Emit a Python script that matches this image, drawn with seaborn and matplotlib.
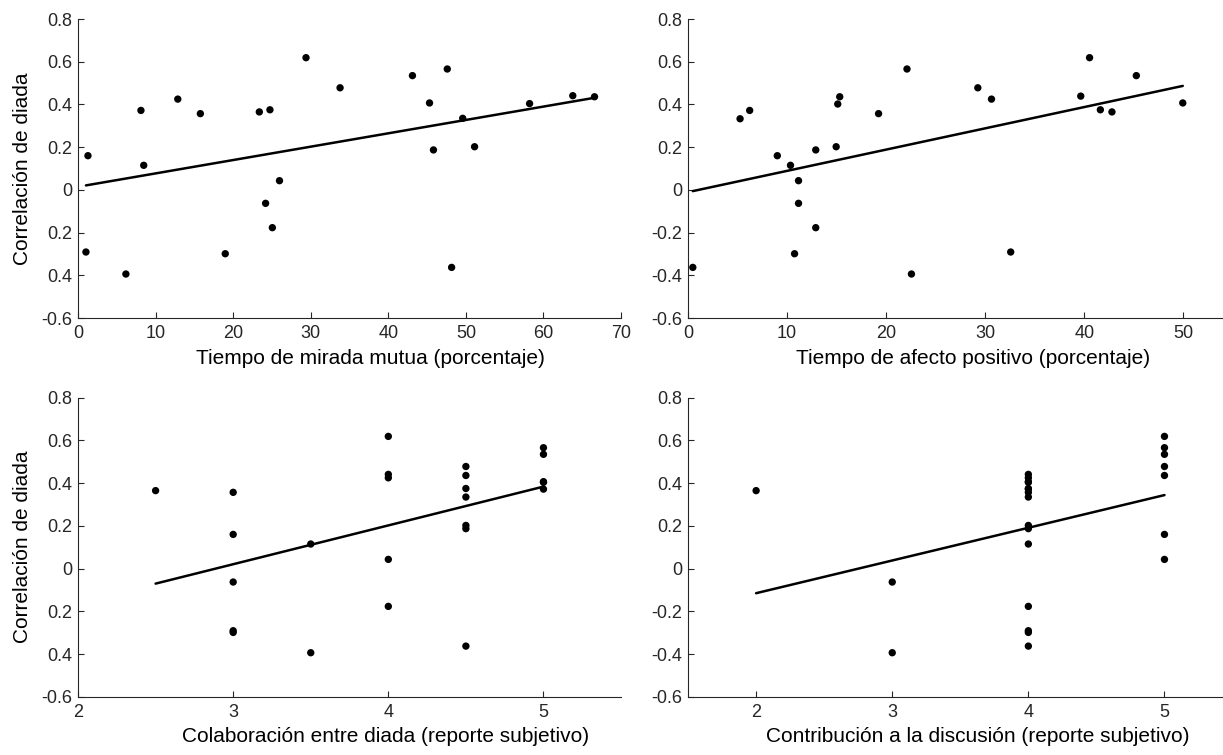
import matplotlib
matplotlib.use("Agg")
import matplotlib.pyplot as plt
import seaborn as sns
import pandas as pd

# dyad correlation values (y) and the four predictors (x)
mirada_x = [1.28, 1.02, 6.17, 8.11, 8.47, 12.86, 15.77, 18.98, 23.37, 24.74, 24.18, 25.05, 25.97,
            29.39, 33.78, 43.11, 45.31, 45.82, 47.60, 48.16, 49.59, 51.12, 58.21, 63.78, 66.58]
mirada_y = [0.160, -0.291, -0.394, 0.372, 0.115, 0.425, 0.357, -0.299, 0.365, 0.375, -0.063, -0.177, 0.043,
            0.619, 0.478, 0.535, 0.407, 0.187, 0.566, -0.363, 0.335, 0.202, 0.404, 0.441, 0.436]

afecto_x = [0.48, 5.25, 6.22, 9.01, 10.34, 11.15, 11.15, 10.75, 12.89, 12.89, 14.95, 15.11, 15.31,
            19.23, 22.10, 22.55, 29.25, 30.63, 32.57, 39.64, 40.53, 41.62, 42.79, 45.25, 49.94]
afecto_y = [-0.363, 0.333, 0.372, 0.160, 0.115, 0.043, -0.063, -0.299, 0.187, -0.177, 0.202, 0.402, 0.436,
            0.357, 0.566, -0.394, 0.478, 0.425, -0.291, 0.439, 0.619, 0.375, 0.365, 0.535, 0.407]

colab_x = [2.5, 3, 3, 3, 3, 3, 3.5, 3.5, 4, 4, 4, 4, 4,
           4.5, 4.5, 4.5, 4.5, 4.5, 4.5, 4.5, 5, 5, 5, 5, 5]
colab_y = [0.365, 0.357, 0.160, -0.063, -0.291, -0.299, 0.115, -0.394, 0.619, 0.441, 0.425, 0.043, -0.177,
           0.478, 0.436, 0.375, 0.335, 0.202, 0.187, -0.363, 0.566, 0.535, 0.407, 0.404, 0.372]

contrib_x = [2, 3, 3, 4, 4, 4, 4, 4, 4, 4, 4, 4, 4, 4, 4, 4, 4, 4, 5, 5, 5, 5, 5, 5, 5]
contrib_y = [0.365, -0.063, -0.394, 0.441, 0.425, 0.407, 0.404, 0.375, 0.372, 0.357, 0.335, 0.202, 0.187,
             0.115, -0.177, -0.291, -0.299, -0.363, 0.619, 0.566, 0.535, 0.478, 0.436, 0.160, 0.043]

yticks = [-0.6, -0.4, -0.2, 0, 0.2, 0.4, 0.6, 0.8]
ylabels_left = ['-0.6', '0.4', '0.2', '0', '0.2', '0.4', '0.6', '0.8']
ylabels_right = ['-0.6', '-0.4', '-0.2', '0', '0.2', '0.4', '0.6', '0.8']

sns.set_style("ticks")
plt.rcParams['font.family'] = ['Liberation Sans', 'DejaVu Sans']
plt.rcParams['xtick.direction'] = 'in'
plt.rcParams['ytick.direction'] = 'in'

dark = '#262626'

fig = plt.figure(figsize=(12.23, 7.55), dpi=100)

panels = [
    # x, y, xlabel, rect, xlim, xticks, ylabels, label x pos, ylabel
    (mirada_x, mirada_y, 'Tiempo de mirada mutua (porcentaje)',
     [0.0638, 0.5788, 0.444, 0.396], (0, 70), range(0, 71, 10), ylabels_left, 0.538, True),
    (afecto_x, afecto_y, 'Tiempo de afecto positivo (porcentaje)',
     [0.5626, 0.5788, 0.4374, 0.396], (0, 54), range(0, 51, 10), ylabels_right, 0.533, False),
    (colab_x, colab_y, 'Colaboración entre diada (reporte subjetivo)',
     [0.0638, 0.0772, 0.444, 0.396], (2, 5.5), [2, 3, 4, 5], ylabels_left, 0.567, True),
    (contrib_x, contrib_y, 'Contribución a la discusión (reporte subjetivo)',
     [0.5626, 0.0772, 0.4374, 0.396], (1.5, 5.43), [2, 3, 4, 5], ylabels_right, 0.542, False),
]

for x, y, xlab, rect, xlim, xt, ylabs, lx, has_ylabel in panels:
    ax = fig.add_axes(rect)
    df = pd.DataFrame({'x': x, 'y': y})
    sns.regplot(data=df, x='x', y='y', ax=ax, ci=None, truncate=True,
                scatter_kws={'s': 28, 'color': 'black', 'edgecolor': 'none', 'alpha': 1},
                line_kws={'color': 'black', 'lw': 1.8})
    ax.set_xlim(*xlim)
    ax.set_ylim(-0.6, 0.8)
    ax.set_xticks(list(xt))
    ax.set_yticks(yticks)
    ax.set_yticklabels(ylabs)
    ax.tick_params(labelsize=13, colors=dark, length=4, width=0.8)
    ax.tick_params(axis='x', pad=5)
    ax.tick_params(axis='y', pad=4)
    for s in ['top', 'right']:
        ax.spines[s].set_visible(False)
    for s in ['left', 'bottom']:
        ax.spines[s].set_color(dark)
        ax.spines[s].set_linewidth(0.8)
    ax.set_xlabel(xlab, fontsize=15, color='black')
    ax.xaxis.set_label_coords(lx, -0.134)
    ax.xaxis.label.set_va('center')
    if has_ylabel:
        ax.set_ylabel('Correlación de diada', fontsize=15, color='black')
        ax.yaxis.set_label_coords(-0.103, 0.5)
        ax.yaxis.label.set_va('center')
    else:
        ax.set_ylabel('')

fig.savefig('out.png', dpi=100)
